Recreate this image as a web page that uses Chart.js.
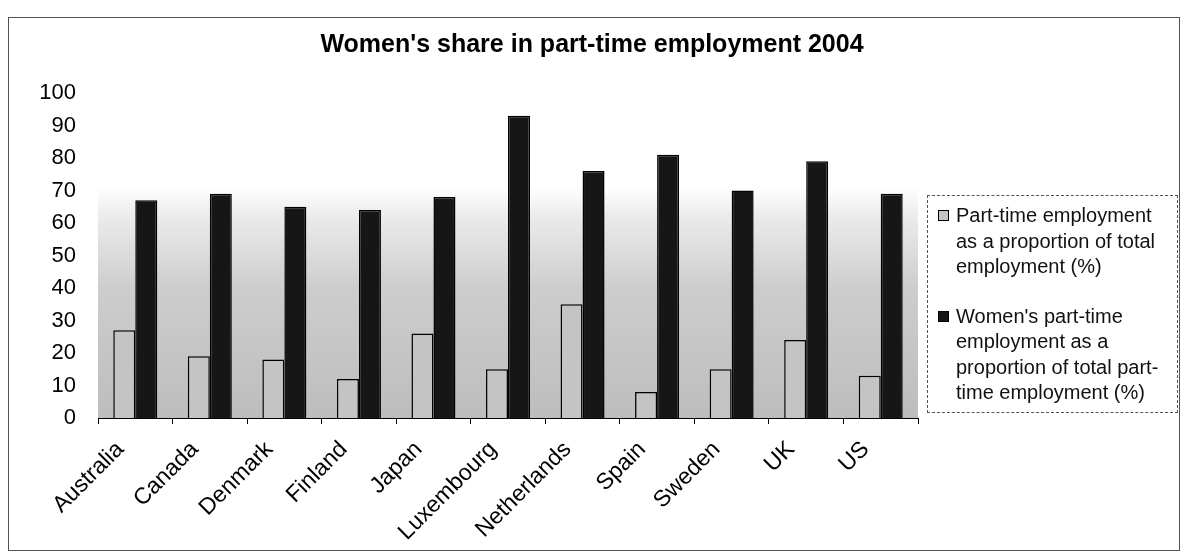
<!DOCTYPE html>
<html>
<head>
<meta charset="utf-8">
<script src="https://cdn.jsdelivr.net/npm/chart.js@4"></script>
<style>
  body { margin: 0; background: #fff; font-family: Arial, "Liberation Sans", sans-serif; }
  #wrap { position: relative; width: 1184px; height: 553px; }
  #legend {
    position: absolute; left: 927px; top: 195px; width: 251px; height: 218px;
    border: 1px dashed #555; box-sizing: border-box; padding: 7px 4px 0 10px;
    font-size: 20px; line-height: 25.5px; color: #111;
  }
  .item { position: relative; padding-left: 18px; margin-bottom: 24px; }
  .box { position: absolute; left: 0; top: 7px; width: 11px; height: 11px; border: 1px solid #000; box-sizing: border-box; }
</style>
</head>
<body>
<div id="wrap">
  <canvas id="partChart" width="1184" height="553"></canvas>
  <div id="legend">
    <div class="item"><span class="box" style="background:#c4c4c4"></span>Part-time employment as a proportion of total employment (%)</div>
    <div class="item"><span class="box" style="background:#161616"></span>Women's part-time employment as a proportion of total part-time employment (%)</div>
  </div>
</div>
<script>
// data
let countries = ["Australia", "Canada", "Denmark", "Finland", "Japan", "Luxembourg", "Netherlands", "Spain", "Sweden", "UK", "US"];
let partTimeShare = [27, 19, 18, 12, 26, 15, 35, 8, 15, 24, 13]; // part-time as % of total employment
let womenShare = [67, 69, 65, 64, 68, 93, 76, 81, 70, 79, 69]; // women as % of part-time employment
let yTicks = [0, 10, 20, 30, 40, 50, 60, 70, 80, 90, 100];
let chartTitle = "Women's share in part-time employment 2004";

// page background, outer frame and shaded plot area
const backdrop = {
    id: "backdrop",
    beforeDraw(chart) {
        let ctx = chart.ctx;
        let a = chart.chartArea;
        ctx.save();
        ctx.fillStyle = "#fff";
        ctx.fillRect(0, 0, chart.width, chart.height);
        ctx.strokeStyle = "#555";
        ctx.lineWidth = 1;
        ctx.strokeRect(8.5, 17.5, 1171, 533);
        let g = ctx.createLinearGradient(0, a.top, 0, a.bottom);
        g.addColorStop(0, "#ffffff");
        g.addColorStop(0.29, "#ffffff");
        g.addColorStop(0.38, "#ebebeb");
        g.addColorStop(0.6, "#cdcdcd");
        g.addColorStop(1, "#bdbdbd");
        ctx.fillStyle = g;
        ctx.fillRect(a.left, a.top, a.right - a.left, a.bottom - a.top);
        ctx.restore();
    },
    // title centred on the whole chart, legend included
    afterDraw(chart) {
        let ctx = chart.ctx;
        ctx.save();
        ctx.fillStyle = "#000";
        ctx.font = "bold 25px Arial, 'Liberation Sans'";
        ctx.textAlign = "center";
        ctx.textBaseline = "middle";
        ctx.fillText(chartTitle, chart.width / 2, 45);
        ctx.restore();
    }
};

let ctx = document.getElementById("partChart").getContext("2d");
let chart = new Chart(ctx, {
    type: "bar",
    data: {
        labels: countries,
        datasets: [{
            label: "Part-time employment as a proportion of total employment (%)",
            data: partTimeShare,
            backgroundColor: "#c4c4c4",
            borderColor: "#000",
            borderWidth: 1.5,
            categoryPercentage: 0.59,
            barPercentage: 1
        }, {
            label: "Women's part-time employment as a proportion of total part-time employment (%)",
            data: womenShare,
            backgroundColor: "#161616",
            borderColor: "#000",
            borderWidth: 1.5,
            categoryPercentage: 0.59,
            barPercentage: 1
        }]
    },
    options: {
        responsive: false,
        animation: false,
        layout: { padding: { left: 0, right: 266, top: 93, bottom: 0 } },
        scales: {
            x: {
                grid: { display: true, drawOnChartArea: false, drawTicks: true, tickLength: 6, offset: true, color: "#000" },
                border: { display: true, color: "#000", width: 1 },
                ticks: {
                    color: "#000",
                    font: { family: "Arial, 'Liberation Sans'", size: 23 },
                    minRotation: 45,
                    maxRotation: 45,
                    padding: 12,
                    labelOffset: -15
                },
                afterFit(scale) { scale.height = 135; }
            },
            y: {
                min: 0,
                max: 100,
                grid: { display: false, drawTicks: false },
                border: { display: false },
                afterBuildTicks(scale) { scale.ticks = yTicks.map(v => ({ value: v })); },
                ticks: {
                    color: "#000",
                    font: { family: "Arial, 'Liberation Sans'", size: 22 },
                    padding: 22
                },
                afterFit(scale) { scale.width = 98; }
            }
        },
        plugins: {
            legend: { display: false },
            tooltip: { enabled: false },
            title: { display: false }
        }
    },
    plugins: [backdrop]
});
</script>
</body>
</html>
